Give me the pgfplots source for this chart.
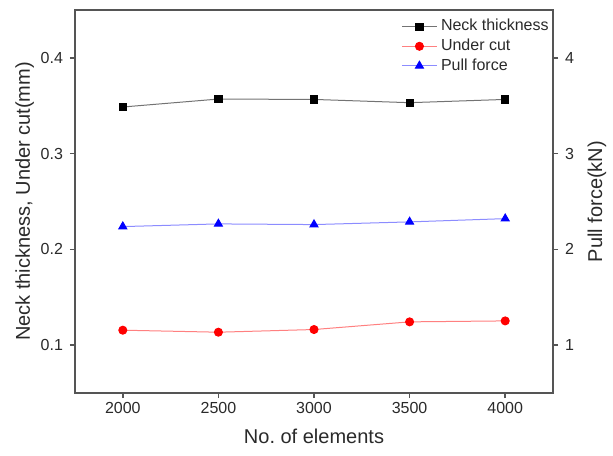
\documentclass[border=0pt]{standalone}
\usepackage{pgfplots}
\pgfplotsset{compat=1.18}
\usetikzlibrary{calc}
\usepackage{fontspec}
\setmainfont{Liberation Sans}
\definecolor{axgray}{HTML}{555555}
\definecolor{txtgray}{HTML}{2A2A2A}
\begin{document}
\begin{tikzpicture}
\pgfplotsset{
  every axis/.append style={
    scale only axis, width=239pt, height=191.5pt,
    font=\fontsize{8}{9.6}\selectfont,
    /pgf/number format/assume math mode=true,
    tick label style={text=txtgray},
    label style={font=\fontsize{10}{12}\selectfont, text=txtgray},
    tick align=outside, major tick length=2.5pt,
    every tick/.style={axgray, line width=0.8pt},
    axis line style={axgray, line width=0.9pt},
    xmin=1750, xmax=4250,
  },
}
\begin{axis}[
  name=main,
  ymin=0.05, ymax=0.45,
  xtick={2000,2500,3000,3500,4000},
  ytick={0.1,0.2,0.3,0.4},
  xtick pos=bottom, ytick pos=left,
  x tick label style={/pgf/number format/set thousands separator={}, yshift=1.5pt},
  y tick label style={/pgf/number format/.cd, fixed, precision=1},
  xlabel={No.\ of elements},
  ylabel={Neck thickness, Under cut(mm)},
  xlabel style={yshift=-1pt},
  ylabel style={yshift=-3.5pt},
]
\addplot[color=black!55, line width=0.5pt, mark=square*, mark size=1.8pt, mark options={fill=black, draw=black, solid}]
  coordinates {(2000,0.3487) (2500,0.3570) (3000,0.3566) (3500,0.3532) (4000,0.3566)};
\addplot[color=red!50, line width=0.5pt, mark=*, mark size=2pt, mark options={fill=red, draw=red, solid}]
  coordinates {(2000,0.1156) (2500,0.1135) (3000,0.1163) (3500,0.1243) (4000,0.1253)};
\end{axis}
\begin{axis}[
  ymin=0.5, ymax=4.5,
  axis x line=none,
  axis y line*=right,
  ytick={1,2,3,4},
  ylabel={Pull force(kN)},
  legend style={at={(1,1)}, anchor=north east, draw=none, fill=none,
    font=\fontsize{8}{9.6}\selectfont, text=txtgray, xshift=3pt, yshift=-0.5pt,
    row sep=-1.5pt},
  legend cell align=left,
]
\addlegendimage{color=black!55, line width=0.5pt, mark=square*, mark size=1.8pt, mark options={fill=black, draw=black, solid}}
\addlegendentry{Neck thickness}
\addlegendimage{color=red!50, line width=0.5pt, mark=*, mark size=2pt, mark options={fill=red, draw=red, solid}}
\addlegendentry{Under cut}
\addplot[color=blue!45, line width=0.5pt, mark=triangle*, mark size=2.3pt, mark options={fill=blue, draw=blue, solid}]
  coordinates {(2000,2.238) (2500,2.266) (3000,2.259) (3500,2.287) (4000,2.321)};
\addlegendentry{Pull force}
\end{axis}
\pgfresetboundingbox
\path ($(main.south west)+(-37.5pt,-31pt)$) rectangle ($(main.north east)+(30pt,5pt)$);
\end{tikzpicture}
\end{document}
